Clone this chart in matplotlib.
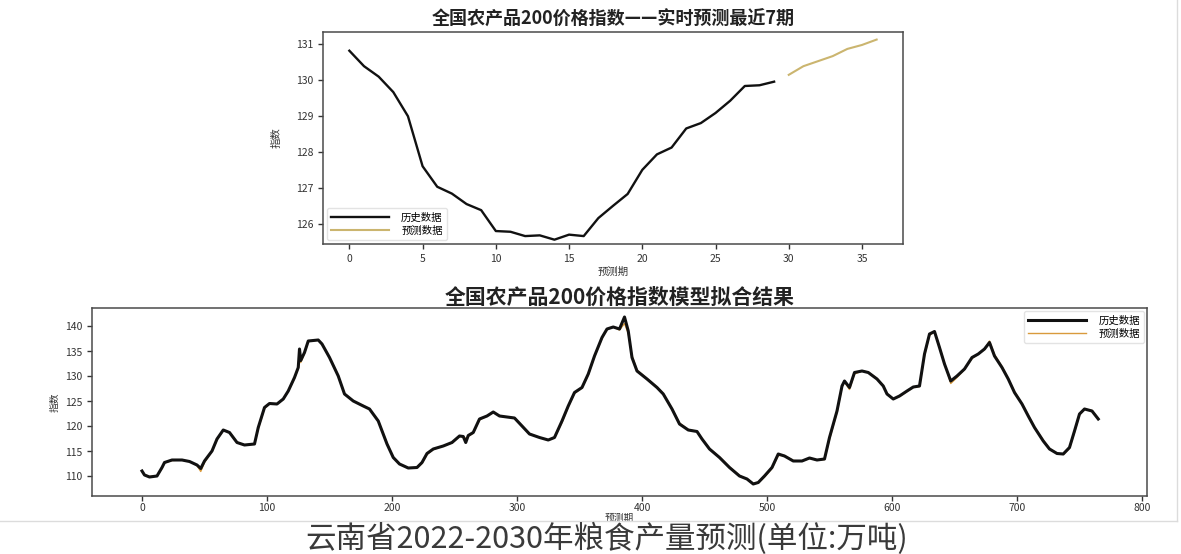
import matplotlib
matplotlib.use("Agg")
import matplotlib.pyplot as plt
from matplotlib.ticker import MultipleLocator
from matplotlib.lines import Line2D

plt.rcParams['font.family'] = ['Noto Sans CJK SC', 'DejaVu Sans']
plt.rcParams['axes.unicode_minus'] = False

# ---------------- data: top chart ----------------
top_title = "全国农产品200价格指数——实时预测最近7期"
top_hist_x = list(range(0, 30))
top_hist_y = [130.81, 130.38, 130.09, 129.66, 128.99, 127.60, 127.03, 126.84, 126.55, 126.38,
              125.80, 125.78, 125.66, 125.68, 125.56, 125.70, 125.66, 126.16, 126.50, 126.83,
              127.50, 127.93, 128.12, 128.65, 128.80, 129.08, 129.42, 129.83, 129.85, 129.95]
top_fc_x = list(range(30, 37))
top_fc_y = [130.14, 130.38, 130.52, 130.66, 130.86, 130.97, 131.12]

# ---------------- data: bottom chart ----------------
bot_title = "全国农产品200价格指数模型拟合结果"
periods = [0, 2, 6, 12, 16, 18, 24, 32, 38, 44, 47, 50, 56, 60, 65, 70, 76, 82, 90, 93,
           98, 102, 108, 113, 117, 122, 125, 126, 127, 130, 133, 141, 144, 150, 157, 162, 169, 177, 182, 189,
           196, 201, 206, 213, 220, 224, 228, 233, 241, 248, 254, 257, 259, 261, 265, 270, 276, 281, 286, 292,
           298, 304, 310, 318, 325, 330, 336, 341, 346, 352, 357, 362, 368, 372, 377, 382, 386, 389, 392, 396,
           404, 412, 417, 424, 430, 437, 444, 448, 454, 462, 470, 478, 484, 489, 493, 498, 504, 509, 514, 521,
           528, 534, 540, 546, 550, 556, 560, 562, 566, 570, 576, 581, 588, 593, 596, 601, 606, 612, 617, 622,
           626, 630, 634, 638, 642, 647, 652, 658, 664, 669, 674, 678, 682, 688, 693, 698, 704, 709, 714, 721,
           726, 732, 737, 742, 746, 750, 754, 760, 765]
history = [111.1, 110.3, 109.9, 110.1, 111.8, 112.8, 113.3, 113.3, 113.0, 112.3, 111.6, 113.1, 115.1, 117.5, 119.3, 118.8, 116.8, 116.3, 116.5, 119.8,
           123.8, 124.6, 124.5, 125.5, 127.1, 129.8, 131.8, 135.5, 133.2, 134.8, 137.1, 137.3, 136.5, 133.8, 130.1, 126.5, 125.1, 124.1, 123.5, 121.1,
           116.5, 113.8, 112.5, 111.7, 111.8, 112.8, 114.6, 115.5, 116.1, 116.8, 118.1, 118.0, 116.8, 118.2, 118.8, 121.5, 122.1, 122.9, 122.1, 121.9,
           121.7, 120.1, 118.5, 117.8, 117.3, 117.8, 121.1, 124.1, 126.8, 127.8, 130.5, 134.1, 137.8, 139.5, 139.9, 139.5, 141.9, 139.1, 133.8, 131.1,
           129.5, 127.8, 126.5, 123.5, 120.5, 119.3, 119.0, 117.5, 115.5, 113.8, 111.8, 110.1, 109.5, 108.5, 108.8, 110.1, 111.8, 114.5, 114.1, 113.1,
           113.1, 113.7, 113.3, 113.5, 117.8, 123.1, 128.1, 129.1, 127.8, 130.8, 131.1, 130.8, 129.5, 128.1, 126.5, 125.5, 126.1, 127.1, 127.9, 128.1,
           134.5, 138.5, 139.0, 135.8, 132.5, 129.1, 130.1, 131.5, 133.8, 134.5, 135.5, 136.8, 134.1, 131.8, 129.5, 126.8, 124.5, 122.1, 119.8, 117.1,
           115.5, 114.6, 114.5, 115.8, 119.1, 122.5, 123.5, 123.1, 121.5]
fitted = [111.0, 110.4, 110.0, 110.1, 111.6, 112.7, 113.2, 113.3, 113.0, 112.2, 111.0, 112.8, 115.0, 117.3, 119.2, 118.9, 116.9, 116.3, 116.5, 119.5,
          123.6, 124.6, 124.5, 125.4, 127.0, 129.6, 131.6, 133.4, 132.8, 134.6, 137.0, 137.3, 136.6, 133.9, 130.2, 126.6, 125.1, 124.2, 123.5, 121.2,
          116.7, 113.9, 112.5, 111.7, 111.7, 112.6, 114.4, 115.4, 116.1, 116.7, 118.0, 118.0, 117.6, 118.0, 118.7, 121.3, 122.1, 122.8, 122.2, 121.9,
          121.7, 120.2, 118.6, 117.8, 117.3, 117.7, 120.8, 123.9, 126.6, 127.7, 130.3, 133.9, 137.6, 139.4, 139.9, 139.3, 140.6, 138.6, 134.2, 131.3,
          129.6, 127.9, 126.6, 123.6, 120.7, 119.4, 119.0, 117.6, 115.6, 113.9, 111.9, 110.2, 109.5, 108.6, 108.7, 109.9, 111.6, 114.2, 114.2, 113.2,
          113.1, 113.6, 113.3, 113.4, 117.4, 122.8, 127.8, 128.9, 127.4, 130.5, 131.1, 130.9, 129.6, 128.2, 126.6, 125.5, 126.0, 127.0, 127.8, 128.0,
          134.1, 138.2, 139.0, 136.0, 132.7, 128.6, 129.8, 131.4, 133.6, 134.5, 135.4, 137.1, 134.4, 132.0, 129.6, 127.0, 124.6, 122.3, 119.9, 117.3,
          115.6, 114.6, 114.4, 115.6, 118.8, 122.3, 123.5, 123.2, 121.6]

legend_labels = ["历史数据", "预测数据"]
caption = "云南省2022-2030年粮食产量预测(单位:万吨)"

W, H = 1181, 554
fig = plt.figure(figsize=(W / 100, H / 100), dpi=100)
fig.patch.set_facecolor('white')

spine_c = '#4a4a4a'
tick_fs = 7.5

def style(ax):
    for s in ax.spines.values():
        s.set_color(spine_c)
        s.set_linewidth(1.1)
    ax.tick_params(labelsize=tick_fs, colors='#333333', length=3.5, width=1.0)

# ---------------- top chart ----------------
ax1 = fig.add_axes([323 / W, 1 - 244 / H, (903 - 323) / W, (244 - 32) / H])
ax1.plot(top_hist_x, top_hist_y, color='#111111', lw=1.7, label=legend_labels[0])
ax1.plot(top_fc_x, top_fc_y, color='#cbb56f', lw=1.5, label=legend_labels[1])
ax1.set_xlim(-1.8, 37.8)
ax1.set_ylim(125.44, 131.33)
ax1.xaxis.set_major_locator(MultipleLocator(5))
ax1.yaxis.set_major_locator(MultipleLocator(1))
style(ax1)
ax1.set_title(top_title, fontsize=13, fontweight='bold', color='#222222', pad=5)
ax1.set_xlabel("预测期", fontsize=7.5, color='#333333', labelpad=2)
ax1.set_ylabel("指数", fontsize=7.5, color='#333333', labelpad=10)
ax1.legend(loc='lower left', fontsize=7.5, handlelength=5.5, frameon=True,
           edgecolor='#dddddd', borderaxespad=0.4, labelspacing=0.3, handletextpad=1.2)

# ---------------- bottom chart ----------------
ax2 = fig.add_axes([92 / W, 1 - 496 / H, (1147 - 92) / W, (496 - 308) / H])
ax2.plot(periods, history, color='#111111', lw=2.2, label=legend_labels[0], zorder=3)
ax2.plot(periods, fitted, color='#d99a3c', lw=1.0, label=legend_labels[1], zorder=2)
ax2.set_xlim(-40, 804)
ax2.set_ylim(106.1, 143.7)
ax2.xaxis.set_major_locator(MultipleLocator(100))
ax2.yaxis.set_major_locator(MultipleLocator(5))
style(ax2)
ax2.tick_params(axis='x', pad=1.5)
ax2.set_title(bot_title, fontsize=15, fontweight='bold', color='#222222', pad=2)
ax2.set_xlabel("预测期", fontsize=7, color='#333333', labelpad=0)
ax2.set_ylabel("指数", fontsize=7, color='#333333')
ax2.legend(loc='upper right', fontsize=7.5, handlelength=5.5, frameon=True,
           edgecolor='#dddddd', borderaxespad=0.3, labelspacing=0.3, handletextpad=1.2)

# faint frame of the screenshot
fig.add_artist(Line2D([0, 1177 / W], [1 - 521 / H, 1 - 521 / H], color='#dcdcdc', lw=1.0))
fig.add_artist(Line2D([1177 / W, 1177 / W], [1 - 521 / H, 1.0], color='#dcdcdc', lw=1.0))

fig.text(607 / W, 1 - 539 / H, caption, ha='center', va='center', fontsize=22, color='#3a3a3a')

fig.savefig("out.png", dpi=100, facecolor='white')
